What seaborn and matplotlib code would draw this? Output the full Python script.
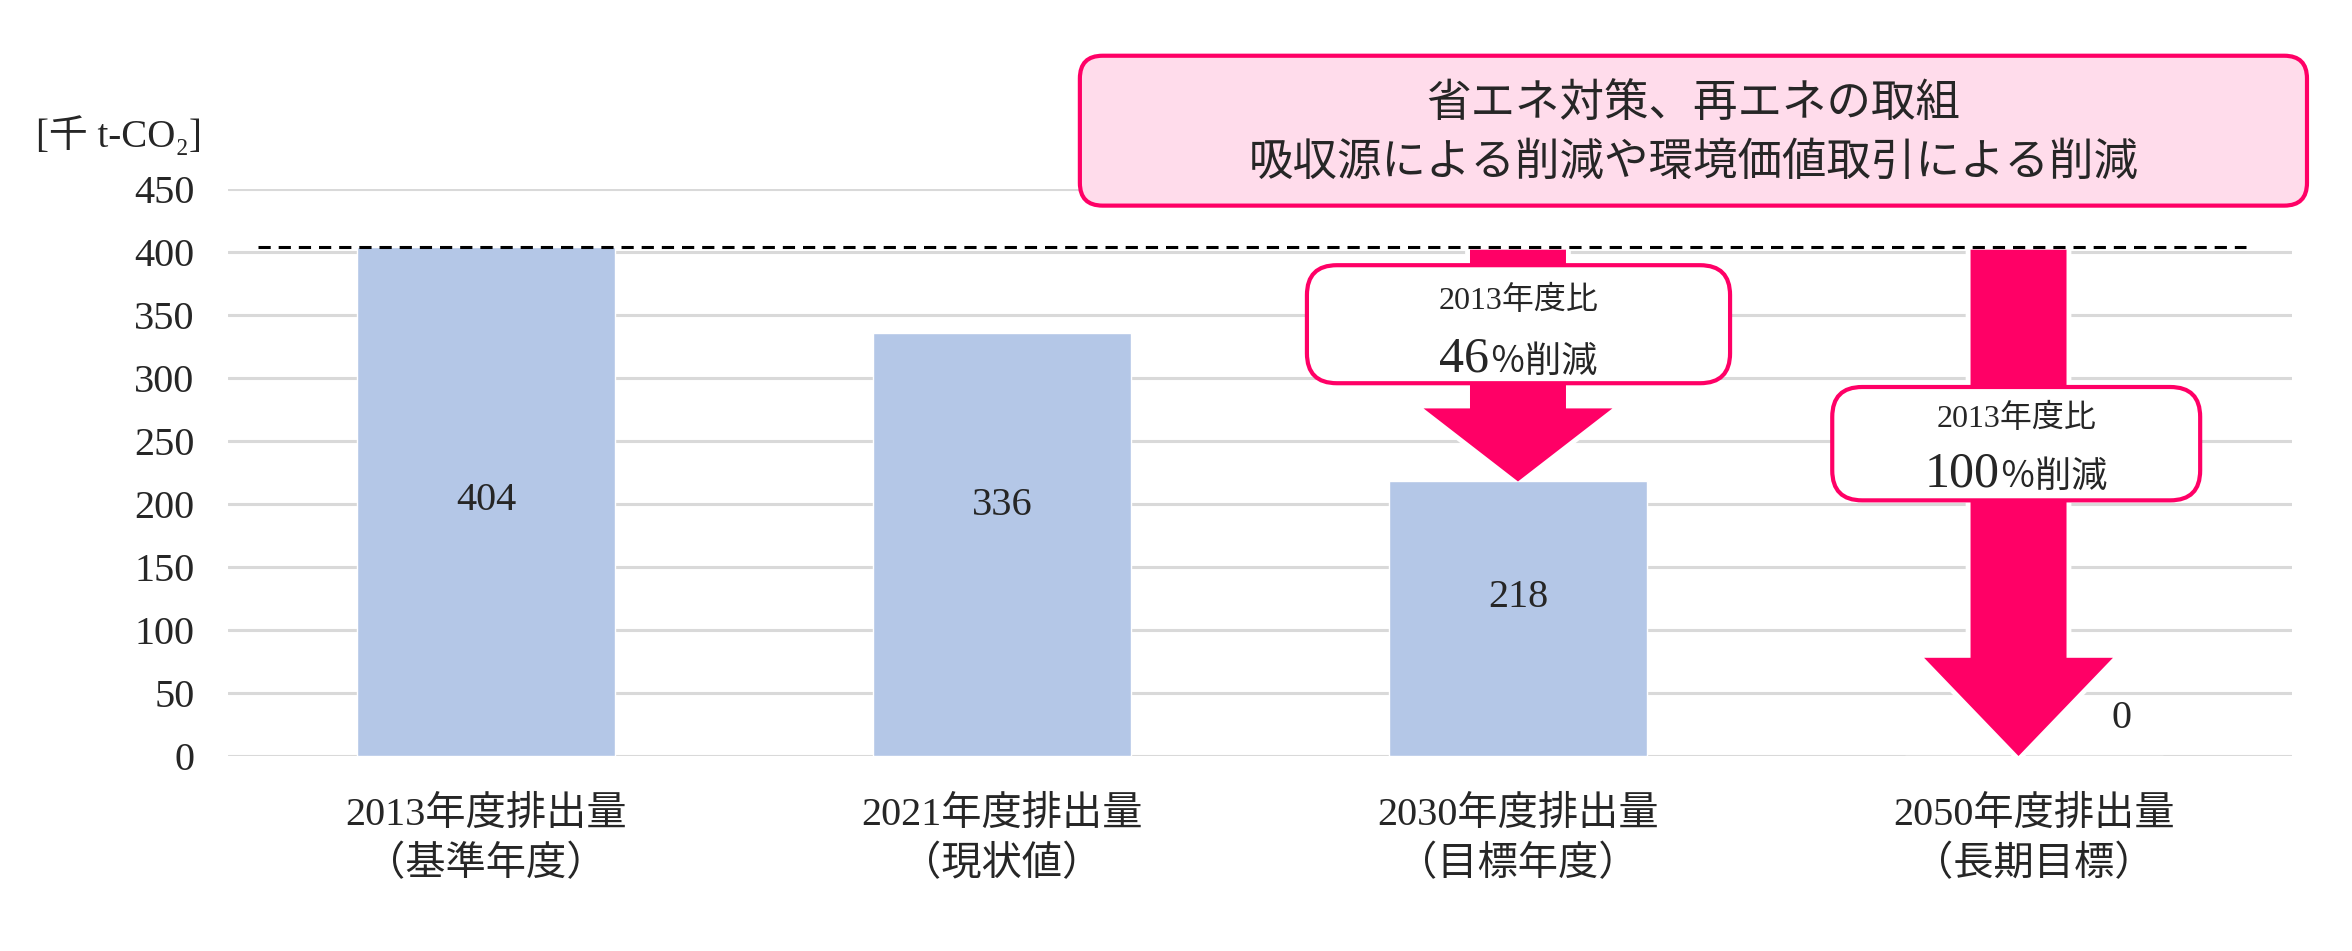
import matplotlib
matplotlib.use("Agg")
import matplotlib.pyplot as plt
import seaborn as sns
from matplotlib.patches import FancyBboxPatch, FancyArrow
from matplotlib.transforms import offset_copy

# --- data ---
CATEGORIES = [
    "2013年度排出量\n（基準年度）",
    "2021年度排出量\n（現状値）",
    "2030年度排出量\n（目標年度）",
    "2050年度排出量\n（長期目標）",
]
EMISSIONS = [404, 336, 218, 0]
BASE_VALUE = 404
Y_TICKS = [0, 50, 100, 150, 200, 250, 300, 350, 400, 450]
UNIT_LABEL = "[千 t-CO₂]"
TOP_NOTE = ["省エネ対策、再エネの取組", "吸収源による削減や環境価値取引による削減"]
CALLOUT_HEAD = "2013年度比"
CUT_NUMBERS = ["46", "100"]
CUT_SUFFIX = "％削減"

BAR_COLOR = "#B4C7E7"
PINK = "#FF0066"
PINK_FILL = "#FFDCEB"
GRID_COLOR = "#D9D9D9"

sns.set_style("white")
plt.rcParams["font.family"] = ["Liberation Serif", "Noto Sans CJK JP", "DejaVu Sans"]

fig = plt.figure(figsize=(23.52, 9.51), dpi=100)
ax = fig.add_axes([0.0969, 0.205, 0.8776, 0.596])

sns.barplot(x=CATEGORIES, y=EMISSIONS, color=BAR_COLOR, saturation=1,
            width=0.5, ax=ax, zorder=2)

ax.set_xlim(-0.5, 3.5)
ax.set_ylim(0, 450)
ax.set_yticks(Y_TICKS)
ax.set_yticklabels([str(t) for t in Y_TICKS])
ax.set_axisbelow(True)
ax.yaxis.grid(True, color=GRID_COLOR, linewidth=2.2)
ax.xaxis.grid(False)
for s in ax.spines.values():
    s.set_visible(False)
ax.tick_params(axis="y", length=0, labelsize=29, pad=24)
ax.tick_params(axis="x", length=0, labelsize=29, pad=29)
for lab in ax.get_xticklabels():
    lab.set_linespacing(1.42)
ax.set_xlabel("")
ax.set_ylabel("")

# unit label
fig.text(0.0153, 0.857, UNIT_LABEL, fontsize=28, ha="left", va="center")

# dashed reference line at the base year level
ax.hlines(BASE_VALUE, -0.442, 3.41, colors="black", linestyles=(0, (4, 2.6)),
          linewidth=2.2, zorder=3.9)

# bar value labels
label_pos = [(0, 203), (1, 199), (2, 126), (3.17, 30)]
for (lx, ly), v in zip(label_pos, EMISSIONS):
    ax.text(lx, ly, str(v), fontsize=29, ha="center", va="center", zorder=6)

# aspect so rounded corners stay circular in pixels
bbox = ax.get_position()
px_per_x = bbox.width * fig.get_figwidth() * fig.dpi / 4.0
px_per_y = bbox.height * fig.get_figheight() * fig.dpi / 450.0
asp = px_per_x / px_per_y

# reduction arrows: from the base level down to each target
arrow_specs = [(2.0, EMISSIONS[2], 58), (2.97, EMISSIONS[3], 78)]
for ax_x, target, head_len in arrow_specs:
    start = BASE_VALUE - 2
    # white halo under the arrow cuts the gridlines, pink arrow on top
    for fc, ec, lw, z in [("white", "white", 7, 1.5), (PINK, PINK, 0, 4)]:
        arr = FancyArrow(ax_x, start, 0, target - start, width=0.186,
                         head_width=0.366, head_length=head_len,
                         length_includes_head=True, facecolor=fc,
                         edgecolor=ec, linewidth=lw, zorder=z)
        ax.add_patch(arr)

# top note box
top = FancyBboxPatch((1.151, 437), 3.529 - 1.151, 556 - 437,
                     boxstyle="round,pad=0,rounding_size=0.044",
                     mutation_aspect=asp, facecolor=PINK_FILL, edgecolor=PINK,
                     linewidth=3, clip_on=False, zorder=5)
ax.add_patch(top)
ax.text(2.34, 517.5, TOP_NOTE[0], fontsize=32, ha="center", va="center",
        zorder=6, clip_on=False)
ax.text(2.34, 470.5, TOP_NOTE[1], fontsize=32, ha="center", va="center",
        zorder=6, clip_on=False)

# callout boxes
callouts = [
    dict(x0=1.591, x1=2.411, y0=296, y1=389.7, head_y=361, num_y=305),
    dict(x0=2.609, x1=3.322, y0=203, y1=293, head_y=268, num_y=214),
]
fig.canvas.draw()
renderer = fig.canvas.get_renderer()
for c, num in zip(callouts, CUT_NUMBERS):
    box = FancyBboxPatch((c["x0"], c["y0"]), c["x1"] - c["x0"], c["y1"] - c["y0"],
                         boxstyle="round,pad=0,rounding_size=0.058",
                         mutation_aspect=asp, facecolor="white", edgecolor=PINK,
                         linewidth=3, zorder=5)
    ax.add_patch(box)
    cx = (c["x0"] + c["x1"]) / 2
    ax.text(cx, c["head_y"], CALLOUT_HEAD, fontsize=23, ha="center", va="center",
            zorder=6)
    t1 = ax.text(cx, c["num_y"], num, fontsize=36, ha="right", va="baseline", zorder=6)
    t2 = ax.text(cx, c["num_y"], CUT_SUFFIX, fontsize=26, ha="left", va="baseline",
                 zorder=6)
    w1 = t1.get_window_extent(renderer).width
    w2 = t2.get_window_extent(renderer).width
    shift = (w1 - w2) / 2
    tr = offset_copy(ax.transData, fig=fig, x=shift, y=0, units="dots")
    t1.set_transform(tr)
    t2.set_transform(tr)

fig.savefig("out.png", dpi=100, facecolor="white")
